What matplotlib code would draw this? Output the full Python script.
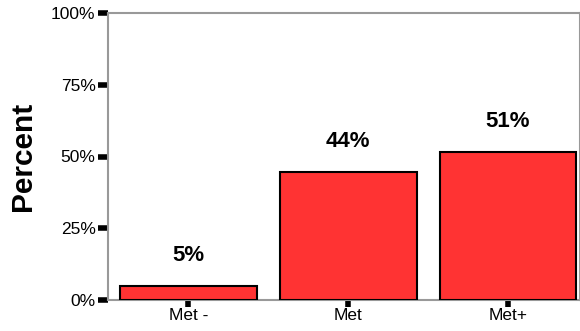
import numpy as np
import matplotlib.pyplot as plt

plt.rcParams['font.family'] = ['Liberation Sans', 'DejaVu Sans']

# data
categories = ['Met -', 'Met', 'Met+']
percent = [4.9, 44.6, 51.6]
bar_labels = ['5%', '44%', '51%']

fig = plt.figure(figsize=(5.8, 3.31), dpi=100)
ax = fig.add_axes([108/580, 31/331, 472/580, 287/331])

x = np.arange(len(categories))
ax.bar(x, percent, width=0.855, color='#ff3333', edgecolor='black', linewidth=1.5, zorder=3)

for xi, v, lab in zip(x, percent, bar_labels):
    ax.text(xi, v + 10.5, lab, ha='center', va='center', fontsize=16, fontweight='bold')

ax.set_xlim(-0.503, 2.45)
ax.set_ylim(0, 100)
ax.set_xticks(x)
ax.set_xticklabels(categories, fontsize=12.5)
ax.set_yticks([0, 25, 50, 75, 100])
ax.set_yticklabels(['0%', '25%', '50%', '75%', '100%'], fontsize=12.5)
ax.tick_params(axis='y', length=7, width=4, color='black', pad=2)
ax.tick_params(axis='x', length=5, width=4, color='black', pad=1)

for s in ax.spines.values():
    s.set_color('#999999')
    s.set_linewidth(1.5)

ax.set_ylabel('Percent', fontsize=21.5, fontweight='bold')
ax.yaxis.set_label_coords(-0.151, 0.5)

plt.savefig('out.png', dpi=100)
